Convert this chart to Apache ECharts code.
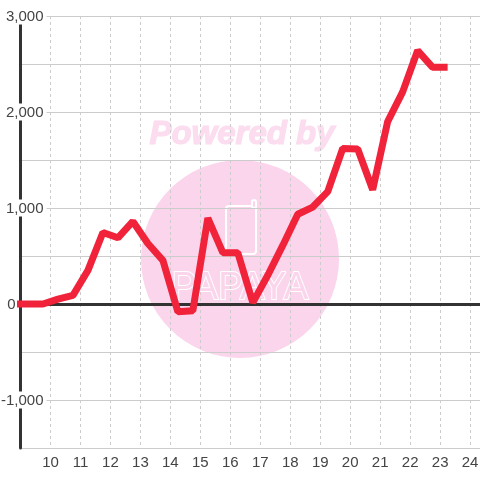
<!DOCTYPE html>
<html lang="en">
<head>
	<meta charset="UTF-8">
	<title>Line chart</title>
	<script src="https://cdn.jsdelivr.net/npm/echarts@6/dist/echarts.min.js"></script>
	<style>
		html,body{height:100%;margin:0;background:#fff;}
	</style>
</head>
<body>
	<div id="chart" style="width:480px; height:480px;"></div>
	<script>
	var xValues = [8.75,9.25,9.75,10.25,10.75,11.25,11.75,12.25,12.75,13.25,13.75,14.25,14.75,15.25,15.75,16.25,16.75,17.25,17.75,18.25,18.75,19.25,19.75,20.25,20.75,21.25,21.75,22.25,22.75,23.25];
	var yValues = [0,0,0,50,90,350,745,690,860,630,455,-80,-70,895,535,535,15,300,610,935,1010,1170,1620,1615,1190,1900,2210,2640,2465,2465];

	var xMin = 9, xMax = 24.33, yMin = -1500, yMax = 3000;
	var textColor = '#444', gridColor = '#ccc', axisColor = '#333';
	var pink = '#fbd5ec';

	var points = [];
	for (var i = 0; i < xValues.length; i++) {
		points.push([xValues[i], yValues[i]]);
	}

	// 세로축 라벨: 1000 단위만 표시, 0은 축 왼쪽으로
	function yLabel(v) {
		if (v === 0) return '{zero|0}';
		if (v % 1000 !== 0) return '';
		return '{num|' + v.toLocaleString('en-US') + '}';
	}

	var option = {
		animation: false,
		backgroundColor: '#fff',
		textStyle: { fontFamily: 'Liberation Sans' },
		grid: { left: 20.5, right: 0, top: 16, bottom: 32, outerBoundsMode: 'none' },
		graphic: [
			{ type: 'circle', z: -1, shape: { cx: 240, cy: 259, r: 99 }, style: { fill: pink } },
			{ type: 'text', z: -1, x: 242, y: 135, style: {
				text: 'Powered by', fill: '#fcdcef', stroke: '#fcdcef', lineWidth: 1.2, align: 'center', verticalAlign: 'middle',
				font: 'italic bold 33px "Liberation Sans"'
			} },
			{ type: 'rect', z: -1, shape: { x: 226, y: 206, width: 30, height: 48, r: 3 },
				style: { fill: 'none', stroke: '#fff', lineWidth: 2 } },
			{ type: 'rect', z: -1, shape: { x: 252, y: 200, width: 4, height: 8, r: 2 },
				style: { fill: pink, stroke: '#fff', lineWidth: 2 } },
			{ type: 'text', z: -1, x: 240, y: 289, scaleX: 0.97, style: {
				text: 'PAPAYA', fill: pink, stroke: '#fff', lineWidth: 2, align: 'center', verticalAlign: 'middle',
				font: '38px "Liberation Sans"'
			} }
		],
		xAxis: [
			{
				type: 'value', min: xMin, max: xMax, interval: 1, position: 'bottom',
				axisLine: { show: false, onZero: false },
				axisTick: { show: false },
				axisLabel: {
					color: textColor, fontSize: 15, margin: 7,
					showMinLabel: false, showMaxLabel: false
				},
				splitLine: {
					show: true, showMinLine: false, showMaxLine: false,
					lineStyle: { color: gridColor, type: [3, 3], width: 1 }
				}
			},
			{
				// 0 위치의 굵은 가로축
				type: 'value', min: xMin, max: xMax, interval: 1, position: 'top',
				axisLine: { show: true, onZero: true, lineStyle: { color: axisColor, width: 3 } },
				axisTick: { show: false },
				axisLabel: { show: false },
				splitLine: { show: false }
			}
		],
		yAxis: {
			type: 'value', min: yMin, max: yMax, interval: 500,
			axisLine: { show: true, onZero: false, lineStyle: { color: axisColor, width: 3 } },
			axisTick: { show: false },
			axisLabel: {
				margin: -26,
				formatter: yLabel,
				rich: {
					num: { color: textColor, fontSize: 15, lineHeight: 12, backgroundColor: '#fff', padding: [2, 3, 0, 3] },
					zero: { color: textColor, fontSize: 15, lineHeight: 12, padding: [2, 31, 0, 0] }
				}
			},
			splitLine: { show: true, lineStyle: { color: gridColor, width: 1 } }
		},
		series: [{
			type: 'line',
			xAxisIndex: 0,
			data: points,
			showSymbol: false,
			lineStyle: { color: '#f0233b', width: 7, join: 'bevel', cap: 'butt' }
		}]
	};

	var myChart = echarts.init(document.getElementById('chart'));
	myChart.setOption(option);
	</script>
</body>
</html>
